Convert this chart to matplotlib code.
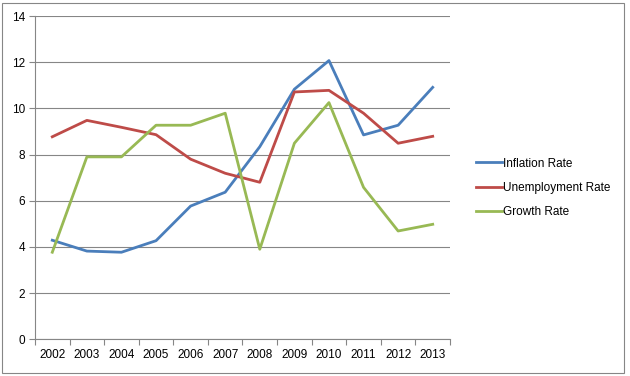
import numpy as np
import matplotlib
matplotlib.use('Agg')
import matplotlib.pyplot as plt
from matplotlib.patches import Rectangle

plt.rcParams['font.family'] = ['Liberation Sans', 'DejaVu Sans']

years = ['2002', '2003', '2004', '2005', '2006', '2007',
         '2008', '2009', '2010', '2011', '2012', '2013']
inflation = [4.29, 3.82, 3.77, 4.27, 5.77, 6.37, 8.34, 10.83, 12.07, 8.85, 9.27, 10.91]
unemployment = [8.77, 9.48, 9.18, 8.86, 7.80, 7.19, 6.80, 10.71, 10.78, 9.79, 8.49, 8.79]
growth = [3.77, 7.90, 7.90, 9.27, 9.27, 9.79, 3.90, 8.49, 10.25, 6.58, 4.69, 4.98]

fig = plt.figure(figsize=(6.3, 3.76), dpi=100)
ax = fig.add_axes([35/630, 1-339.3/376, (450-35)/630, (339.3-16)/376])

x = np.arange(len(years))
ax.plot(x, inflation, color='#4A7EBB', lw=2.0, label='Inflation Rate')
ax.plot(x, unemployment, color='#BE4B48', lw=2.0, label='Unemployment Rate')
ax.plot(x, growth, color='#98B954', lw=2.0, label='Growth Rate')

ax.set_xlim(-0.5, len(years) - 0.5)
ax.set_ylim(0, 14)
ax.set_yticks(range(0, 15, 2))
ax.set_xticks(x)
ax.set_xticklabels(years)
ax.set_xticks(np.arange(-0.5, len(years)), minor=True)
ax.tick_params(axis='x', which='major', length=0, pad=7, labelsize=8.5)
ax.tick_params(axis='x', which='minor', length=4, color='#868686', width=0.8)
ax.tick_params(axis='y', length=4, color='#868686', width=0.8, labelsize=8.5, pad=3)
ax.yaxis.grid(True, color='#868686', lw=0.8)
ax.set_axisbelow(True)
for s in ['top', 'right']:
    ax.spines[s].set_visible(False)
for s in ['left', 'bottom']:
    ax.spines[s].set_color('#868686')
    ax.spines[s].set_linewidth(0.8)

fig.legend(loc='center left', bbox_to_anchor=(465/630, 1-188/376), frameon=False,
           fontsize=8.5, handlelength=2.2, handletextpad=0.1, labelspacing=1.05)

fig.patches.append(Rectangle((2/630, 3/376), 622/630, 370/376, transform=fig.transFigure,
                             fill=False, edgecolor='#868686', lw=0.8))

fig.savefig('out.png', dpi=100, facecolor='white')
